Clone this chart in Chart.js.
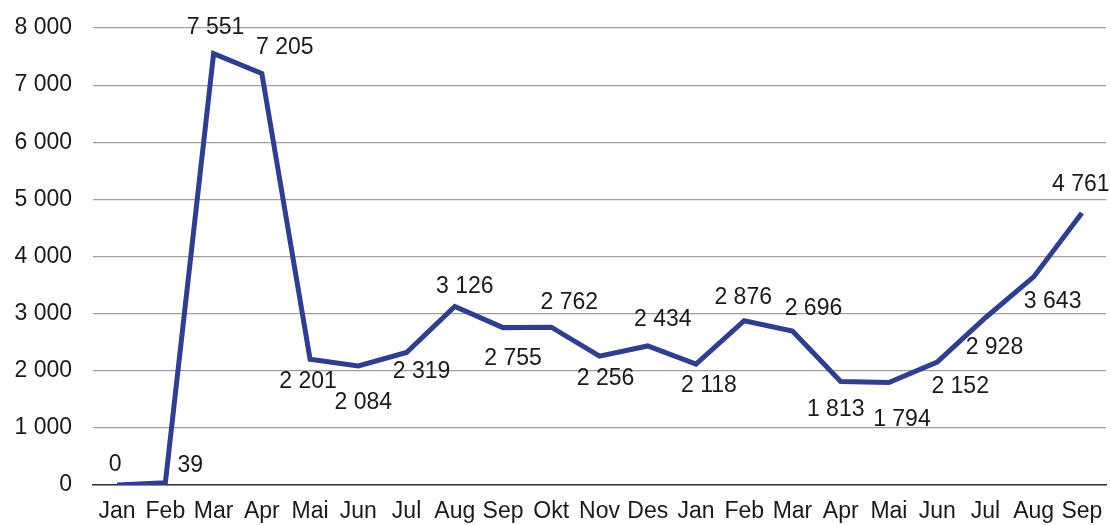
<!DOCTYPE html>
<html>
<head>
<meta charset="utf-8">
<script src="https://cdn.jsdelivr.net/npm/chart.js@4.4.1/dist/chart.umd.min.js"></script>
<style>
  html, body { margin: 0; padding: 0; background: #fff; }
  #wrap { width: 1110px; height: 525px; }
</style>
</head>
<body>
<div id="wrap"><canvas id="chart" width="1110" height="525"></canvas></div>
<script>
var months = ["Jan", "Feb", "Mar", "Apr", "Mai", "Jun", "Jul", "Aug", "Sep", "Okt", "Nov", "Des",
              "Jan", "Feb", "Mar", "Apr", "Mai", "Jun", "Jul", "Aug", "Sep"];
var counts = [0, 39, 7551, 7205, 2201, 2084, 2319, 3126, 2755, 2762, 2256, 2434,
              2118, 2876, 2696, 1813, 1794, 2152, 2928, 3643, 4761];

// where each value label sits, relative to its point (px)
var labelDx = [-2, 25, 2, 23, -2, 5, 15, 10, 10, 18, 6, 15, 13, -1, 21, -5, 13, 23, 9, 19, -1];
var labelDy = [-20, -17, -26, -26, 22, 37, 19, -20, 31, -25, 23, -26, 22, -23, -22, 28, 37, 25, 30, 25, -28];

var FONT = "'Liberation Sans', Arial, sans-serif";

function fmt(v) {
  return String(v).replace(/\B(?=(\d{3})+(?!\d))/g, " ");
}

var valueLabels = {
  id: "valueLabels",
  afterDatasetsDraw: function (chart) {
    var ctx = chart.ctx;
    var meta = chart.getDatasetMeta(0);
    ctx.save();
    ctx.font = "23px " + FONT;
    ctx.fillStyle = "#1a1a1a";
    ctx.textAlign = "center";
    ctx.textBaseline = "middle";
    meta.data.forEach(function (pt, i) {
      ctx.fillText(fmt(counts[i]), pt.x + labelDx[i], pt.y + labelDy[i]);
    });
    ctx.restore();
  }
};

new Chart(document.getElementById("chart"), {
  type: "line",
  data: {
    labels: months,
    datasets: [{
      data: counts,
      borderColor: "#2e3f8f",
      borderWidth: 5,
      pointRadius: 0,
      tension: 0,
      fill: false
    }]
  },
  options: {
    responsive: false,
    animation: false,
    layout: { autoPadding: false, padding: { top: 28, right: 4, left: 0, bottom: 0 } },
    plugins: { legend: { display: false }, tooltip: { enabled: false } },
    scales: {
      x: {
        offset: true,
        grid: { display: false, drawTicks: false },
        border: { display: true, color: "#333333", width: 1.5 },
        ticks: {
          color: "#1a1a1a",
          padding: 13,
          maxRotation: 0,
          autoSkip: false,
          font: { family: FONT, size: 23 }
        },
        afterFit: function (scale) {
          scale.height = 40;
          scale.paddingLeft = 0;
          scale.paddingRight = 0;
        }
      },
      y: {
        min: 0,
        max: 8000,
        grid: { color: "#9e9e9e", lineWidth: 1.2, drawTicks: false },
        border: { display: false },
        ticks: {
          stepSize: 1000,
          color: "#1a1a1a",
          padding: 21,
          font: { family: FONT, size: 23 },
          callback: function (v) { return fmt(v); }
        },
        afterFit: function (scale) {
          scale.width = 93;
          scale.paddingTop = 0;
          scale.paddingBottom = 0;
        }
      }
    }
  },
  plugins: [valueLabels]
});
</script>
</body>
</html>
